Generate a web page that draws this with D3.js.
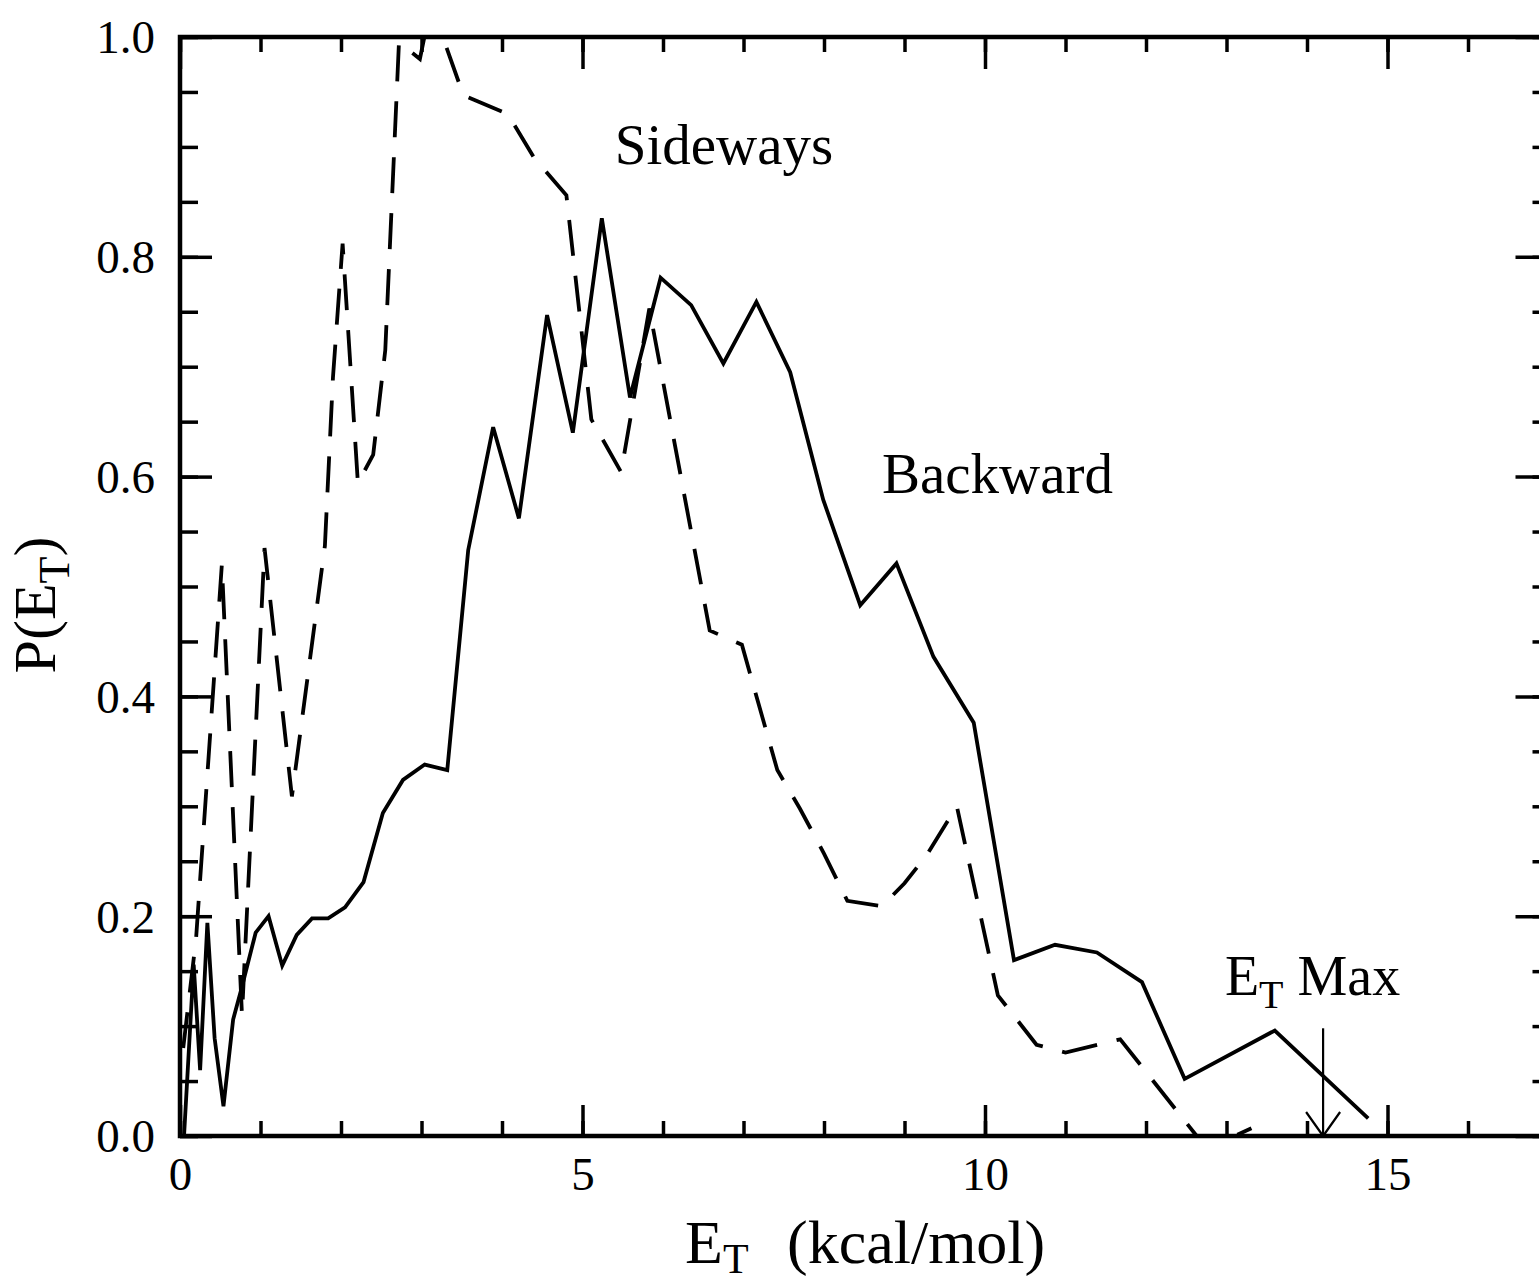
<!DOCTYPE html>
<html><head><meta charset="utf-8">
<script src="https://cdn.jsdelivr.net/npm/d3@7"></script>
<style>
body{margin:0;background:#fff}
text{font-family:"Liberation Serif","Times New Roman",serif;fill:#000}
</style>
</head><body>
<svg id="c" width="1539" height="1285"></svg>
<script>
// ---- data ----
const backwardX = [0.05,0.17,0.25,0.34,0.43,0.54,0.66,0.76,0.94,1.10,1.27,1.45,1.64,1.84,2.05,2.28,2.52,2.77,3.04,3.32,3.58,3.89,4.21,4.56,4.88,5.24,5.59,5.97,6.35,6.75,7.16,7.58,7.99,8.45,8.90,9.36,9.86,10.36,10.87,11.39,11.95,12.48,13.60,14.76];
const backwardY = [0.000,0.156,0.060,0.194,0.089,0.027,0.106,0.133,0.185,0.200,0.155,0.183,0.198,0.198,0.208,0.231,0.294,0.324,0.338,0.333,0.533,0.645,0.562,0.747,0.640,0.835,0.672,0.781,0.756,0.703,0.759,0.695,0.579,0.483,0.521,0.436,0.376,0.160,0.174,0.167,0.140,0.052,0.096,0.016];

const sidewaysX = [0.04,0.20,0.52,0.77,1.05,1.39,1.80,1.90,2.02,2.21,2.40,2.55,2.72,2.98,3.12,3.52,4.07,4.40,4.80,5.11,5.48,5.83,6.58,6.98,7.42,7.70,8.00,8.29,8.72,9.00,9.27,9.65,10.16,10.64,11.00,11.68,12.63,13.10,13.31];
const sidewaysY = [0.080,0.180,0.520,0.110,0.535,0.309,0.537,0.690,0.812,0.594,0.620,0.715,0.995,0.980,1.030,0.947,0.930,0.890,0.856,0.652,0.604,0.753,0.460,0.447,0.333,0.298,0.257,0.214,0.209,0.230,0.255,0.300,0.128,0.083,0.076,0.088,0.000,0.000,0.007];

const xMajorTicks = [0,5,10,15];
const xTickLabels = ["0","5","10","15"];
const xMinorTicks = d3.range(0,18,1);
const yMajorTicks = [0,0.2,0.4,0.6,0.8,1.0];
const yTickLabels = ["0.0","0.2","0.4","0.6","0.8","1.0"];
const yMinorTicks = d3.range(0,21).map(i=>i*0.05);

const labelSideways = {x:5.4, y:0.884, text:"Sideways"};
const labelBackward = {x:8.72, y:0.585, text:"Backward"};
const etMax = {x:14.2, top:0.098, labelX:12.98, labelY:0.128};

// ---- layout ----
const svg = d3.select("#c");
const L = 180, T = 37, W = 1368.5, H = 1099;
const x = d3.scaleLinear().domain([0,17]).range([L, L+W]);
const y = d3.scaleLinear().domain([0,1]).range([T+H, T]);

svg.append("defs").append("clipPath").attr("id","clip")
  .append("rect").attr("x",L).attr("y",T).attr("width",W).attr("height",H);

function styleAxis(g){ g.select(".domain").remove(); g.selectAll("line").attr("stroke","#000").attr("stroke-width",3.5); }

// bottom axis
svg.append("g").attr("transform",`translate(0,${T+H})`)
  .call(d3.axisBottom(x).tickValues(xMinorTicks).tickSize(-15).tickFormat(""))
  .call(styleAxis);
const bx = svg.append("g").attr("transform",`translate(0,${T+H})`)
  .call(d3.axisBottom(x).tickValues(xMajorTicks).tickSize(-31).tickPadding(0)
    .tickFormat((d,i)=>xTickLabels[i]))
  .call(styleAxis);
bx.selectAll("text").attr("font-size",47).attr("font-family","Liberation Serif")
  .attr("dy",null).attr("y",54).attr("fill","#000");

// top axis
svg.append("g").attr("transform",`translate(0,${T})`)
  .call(d3.axisTop(x).tickValues(xMinorTicks).tickSize(-15).tickFormat(""))
  .call(styleAxis);
svg.append("g").attr("transform",`translate(0,${T})`)
  .call(d3.axisTop(x).tickValues(xMajorTicks).tickSize(-32).tickFormat(""))
  .call(styleAxis);

// left axis
svg.append("g").attr("transform",`translate(${L},0)`)
  .call(d3.axisLeft(y).tickValues(yMinorTicks).tickSize(-18).tickFormat(""))
  .call(styleAxis);
const ly = svg.append("g").attr("transform",`translate(${L},0)`)
  .call(d3.axisLeft(y).tickValues(yMajorTicks).tickSize(-32).tickPadding(0)
    .tickFormat((d,i)=>yTickLabels[i]))
  .call(styleAxis);
ly.selectAll("text").attr("font-size",47).attr("font-family","Liberation Serif")
  .attr("x",-25).attr("dy","0.34em").attr("fill","#000");

// right axis
svg.append("g").attr("transform",`translate(${L+W},0)`)
  .call(d3.axisRight(y).tickValues(yMinorTicks).tickSize(-16).tickFormat(""))
  .call(styleAxis);
svg.append("g").attr("transform",`translate(${L+W},0)`)
  .call(d3.axisRight(y).tickValues(yMajorTicks).tickSize(-33).tickFormat(""))
  .call(styleAxis);

// frame
svg.append("rect").attr("x",L).attr("y",T).attr("width",W).attr("height",H)
  .attr("fill","none").attr("stroke","#000").attr("stroke-width",4.5);

// lines
const line = d3.line().x(d=>x(d[0])).y(d=>y(d[1]));
const plot = svg.append("g").attr("clip-path","url(#clip)");
plot.append("path").datum(backwardX.map((v,i)=>[v,backwardY[i]]))
  .attr("d",line).attr("fill","none").attr("stroke","#000").attr("stroke-width",3.8)
  .attr("stroke-linejoin","miter");
plot.append("path").datum(sidewaysX.map((v,i)=>[v,sidewaysY[i]]))
  .attr("d",line).attr("fill","none").attr("stroke","#000").attr("stroke-width",3.8)
  .attr("stroke-dasharray","36,20");

// annotations
svg.append("text").attr("x",x(labelSideways.x)).attr("y",y(labelSideways.y))
  .attr("font-size",57).text(labelSideways.text);
svg.append("text").attr("x",x(labelBackward.x)).attr("y",y(labelBackward.y))
  .attr("font-size",57).text(labelBackward.text);

const em = svg.append("text").attr("x",x(etMax.labelX)).attr("y",y(etMax.labelY)).attr("font-size",56);
em.append("tspan").text("E");
em.append("tspan").attr("font-size",40).attr("dy",13).text("T");
em.append("tspan").attr("dy",-13).attr("dx",14).text("Max");

// E_T max arrow
const ax = x(etMax.x);
svg.append("line").attr("x1",ax).attr("x2",ax).attr("y1",y(etMax.top)).attr("y2",y(0))
  .attr("stroke","#000").attr("stroke-width",2.2);
svg.append("polyline")
  .attr("points",`${ax-17},${y(0)-24} ${ax},${y(0)} ${ax+17},${y(0)-24}`)
  .attr("fill","none").attr("stroke","#000").attr("stroke-width",2.2);

// axis titles
const xt = svg.append("text").attr("x",685).attr("y",1263).attr("font-size",62);
xt.append("tspan").text("E");
xt.append("tspan").attr("font-size",42).attr("dy",10).text("T");
xt.append("tspan").attr("x",787).attr("dy",-10).text("(kcal/mol)");

const yt = svg.append("text").attr("transform","translate(55,605) rotate(-90)")
  .attr("text-anchor","middle").attr("font-size",60);
yt.append("tspan").text("P(E");
yt.append("tspan").attr("font-size",44).attr("dy",14).text("T");
yt.append("tspan").attr("dy",-14).text(")");
</script>
</body></html>
